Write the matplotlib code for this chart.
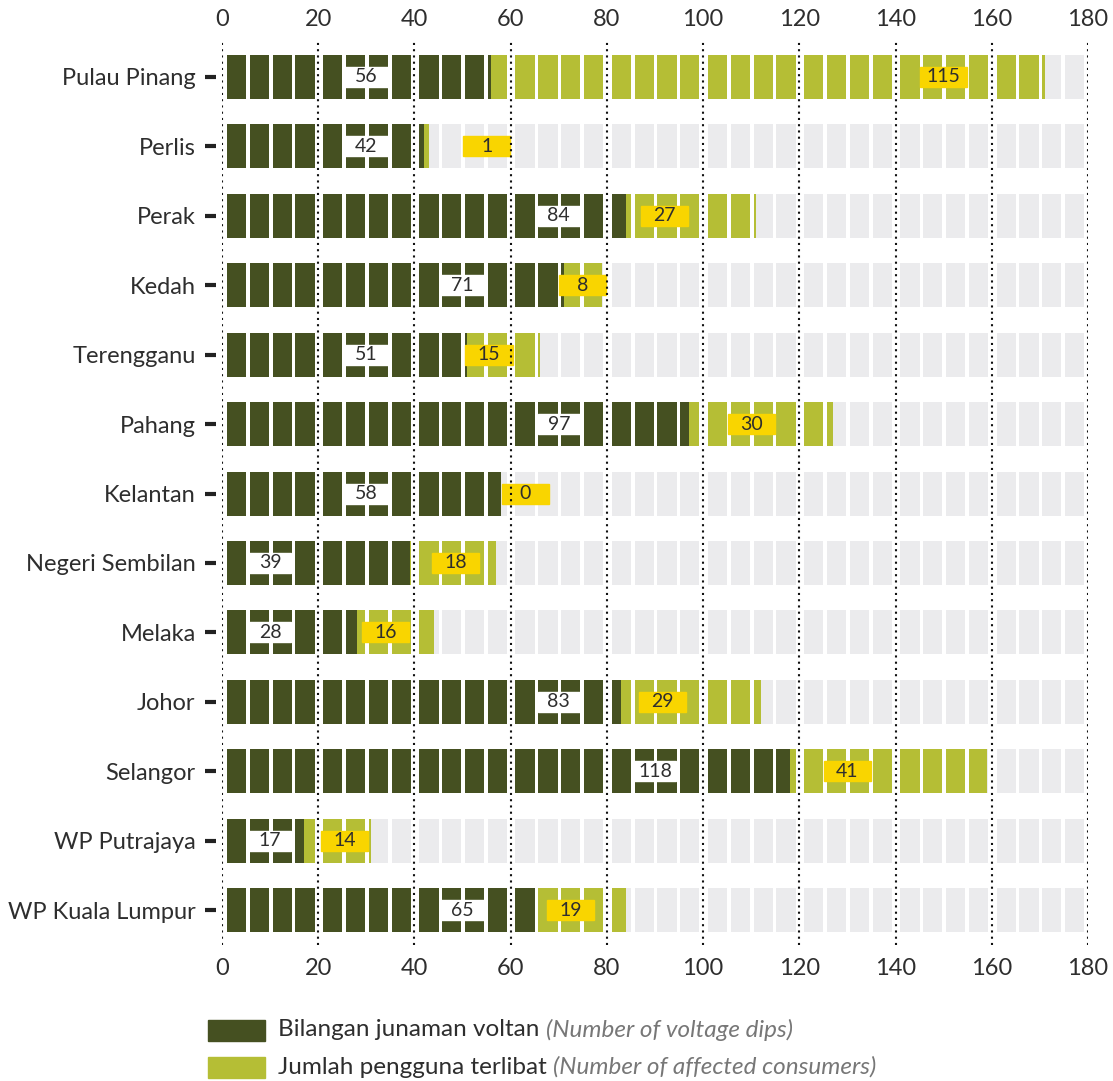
import math
import matplotlib
matplotlib.use("Agg")
import matplotlib.pyplot as plt
from matplotlib.patches import Rectangle
import matplotlib.transforms as mtransforms

# data
states = ["Pulau Pinang", "Perlis", "Perak", "Kedah", "Terengganu", "Pahang",
          "Kelantan", "Negeri Sembilan", "Melaka", "Johor", "Selangor",
          "WP Putrajaya", "WP Kuala Lumpur"]
dips = [56, 42, 84, 71, 51, 97, 58, 39, 28, 83, 118, 17, 65]
consumers = [115, 1, 27, 8, 15, 30, 0, 18, 16, 29, 41, 14, 19]
xticks = list(range(0, 181, 20))

DARK = "#455021"
LIGHT = "#b5be35"
GREY = "#ebebed"
YELLOW = "#f9d500"
TXT = "#2e2e2e"
FONT = ["Lato", "DejaVu Sans"]

plt.rcParams["font.family"] = FONT

fig = plt.figure(figsize=(11.13, 10.81), dpi=100)
ax = fig.add_axes([0.1995, 0.1258, 0.778, 0.8353])

bar_h = 0.633
# blocks of 5 units, four per 20-unit group
blocks = []
for g in range(0, 180, 20):
    for j in range(4):
        s = g + 1.0 + 4.75 * j
        blocks.append((s, s + 4.0))


def overlap(a0, a1, b0, b1):
    lo, hi = max(a0, b0), min(a1, b1)
    return (lo, hi - lo) if hi > lo else None


for i, (d, c) in enumerate(zip(dips, consumers)):
    t = d + c
    for s, e in blocks:
        ax.barh(i, e - s, left=s, height=bar_h, color=GREY, zorder=1)
        o = overlap(s, e, 0, d)
        if o:
            ax.barh(i, o[1], left=o[0], height=bar_h, color=DARK, zorder=2)
        o = overlap(s, e, d, t)
        if o:
            ax.barh(i, o[1], left=o[0], height=bar_h, color=LIGHT, zorder=2)

    # dark value label (white box)
    xd = 20 * max(d // 20, 1) - 10
    ax.add_patch(Rectangle((xd - 4.4, i - 0.144), 8.8, 0.288, color="white", zorder=3))
    ax.text(xd, i, str(d), ha="center", va="center", fontsize=14, color=TXT, zorder=4)

    # light value label (yellow box)
    if c < 5:
        xl = max(20 * (t // 20) + 15, t + 5)
    else:
        best, xl = -1, None
        for g in range(0, 180, 20):
            o = overlap(g, g + 20, d, t)
            if o and o[1] >= best:
                best, xl = o[1], o[0] + o[1] / 2
    ax.add_patch(Rectangle((xl - 4.9, i - 0.144), 9.8, 0.288, color=YELLOW, zorder=3))
    ax.text(xl, i, str(c), ha="center", va="center", fontsize=14, color=TXT, zorder=4)

# dotted grid
for x in xticks:
    ax.axvline(x, color="#111111", lw=1.5, linestyle=(0, (1, 2)), zorder=5)

ax.set_xlim(0, 180)
ax.set_ylim(len(states) - 0.5, -0.5)
ax.set_xticks(xticks)
ax.set_yticks(range(len(states)))
ax.set_yticklabels(states)
ax.tick_params(axis="x", top=True, labeltop=True, length=0, pad=9, labelsize=17, labelcolor=TXT)
ax.tick_params(axis="y", length=0, pad=19, labelsize=17, labelcolor=TXT)
for sp in ax.spines.values():
    sp.set_visible(False)

# short dash marks beside the state names
trans = mtransforms.blended_transform_factory(ax.transAxes, ax.transData)
for i in range(len(states)):
    ax.plot([-0.0196, -0.0069], [i, i], color="#222222", lw=3, transform=trans,
            clip_on=False, solid_capstyle="butt")

# legend
W, H = 1113, 1081
legend_items = [
    (DARK, "Bilangan junaman voltan ", "(Number of voltage dips)", 1030),
    (LIGHT, "Jumlah pengguna terlibat ", "(Number of affected consumers)", 1067),
]
fig.canvas.draw()
renderer = fig.canvas.get_renderer()
for col, main, extra, yc in legend_items:
    fig.patches.append(Rectangle((208 / W, 1 - (yc + 11) / H), 57 / W, 21 / H,
                                 color=col, transform=fig.transFigure, figure=fig))
    t1 = fig.text(278 / W, 1 - yc / H, main, ha="left", va="center", fontsize=17.5, color=TXT)
    bb = t1.get_window_extent(renderer)
    fig.text(bb.x1 / W, 1 - yc / H, extra, ha="left", va="center", fontsize=17.5,
             color="#777777", style="italic")

fig.savefig("out.png", dpi=100)
